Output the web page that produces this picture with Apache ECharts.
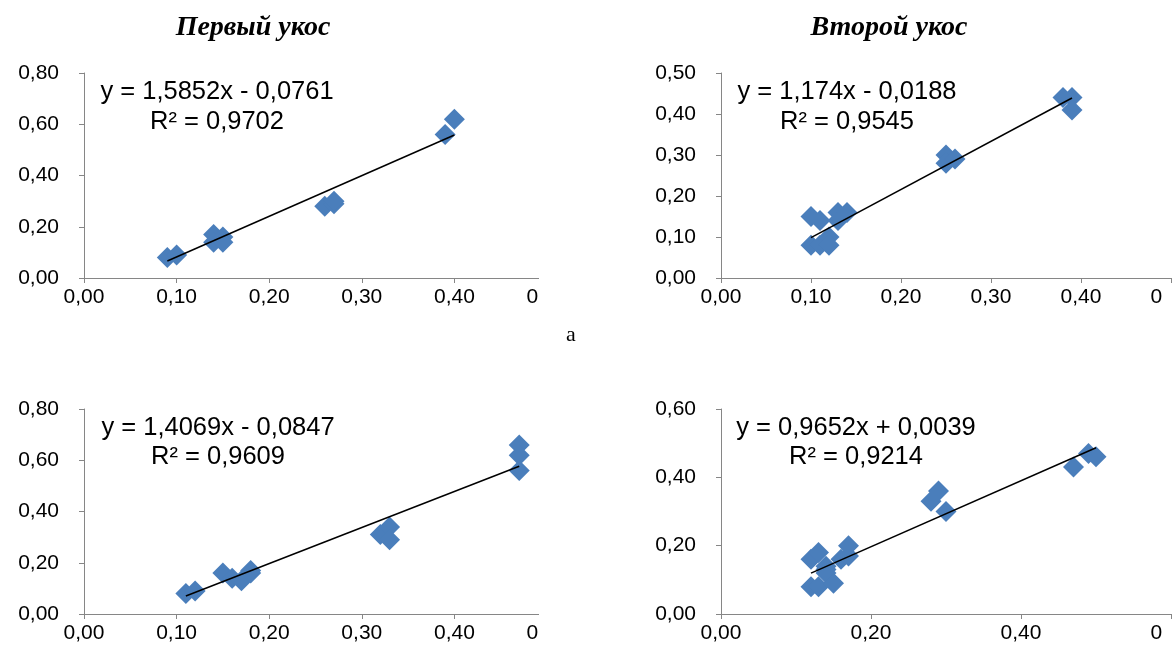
<!DOCTYPE html>
<html>
<head>
<meta charset="utf-8">
<script src="https://cdn.jsdelivr.net/npm/echarts@6/dist/echarts.min.js"></script>
<style>
html,body{margin:0;padding:0;background:#fff;}
#chart{width:1176px;height:662px;}
</style>
</head>
<body>
<div id="chart"></div>
<script>
// ---- Panel titles ----
const titles = ['Первый укос', 'Второй укос'];
const rowLabel = 'а';

// ---- Panel 1 (top-left) ----
const p1x = [0.09, 0.10, 0.14, 0.14, 0.15, 0.15, 0.26, 0.27, 0.27, 0.39, 0.40];
const p1y = [0.08, 0.09, 0.17, 0.14, 0.16, 0.14, 0.28, 0.29, 0.30, 0.56, 0.62];
const p1eq = { slope: 1.5852, intercept: -0.0761, eq: 'y = 1,5852x - 0,0761', r2: 'R² = 0,9702' };

// ---- Panel 2 (top-right) ----
const p2x = [0.10, 0.11, 0.10, 0.11, 0.12, 0.12, 0.13, 0.13, 0.14, 0.25, 0.25, 0.26, 0.38, 0.39, 0.39];
const p2y = [0.15, 0.14, 0.08, 0.08, 0.10, 0.08, 0.16, 0.14, 0.16, 0.30, 0.28, 0.29, 0.44, 0.44, 0.41];
const p2eq = { slope: 1.174, intercept: -0.0188, eq: 'y = 1,174x - 0,0188', r2: 'R² = 0,9545' };

// ---- Panel 3 (bottom-left) ----
const p3x = [0.11, 0.12, 0.15, 0.16, 0.17, 0.18, 0.18, 0.32, 0.33, 0.33, 0.47, 0.47, 0.47];
const p3y = [0.08, 0.09, 0.16, 0.14, 0.13, 0.16, 0.17, 0.31, 0.34, 0.29, 0.66, 0.62, 0.56];
const p3eq = { slope: 1.4069, intercept: -0.0847, eq: 'y = 1,4069x - 0,0847', r2: 'R² = 0,9609' };

// ---- Panel 4 (bottom-right) ----
const p4x = [0.12, 0.13, 0.12, 0.13, 0.14, 0.14, 0.14, 0.15, 0.16, 0.17, 0.17, 0.28, 0.29, 0.30, 0.47, 0.49, 0.50];
const p4y = [0.16, 0.18, 0.08, 0.08, 0.14, 0.12, 0.13, 0.09, 0.16, 0.20, 0.17, 0.33, 0.36, 0.30, 0.43, 0.47, 0.46];
const p4eq = { slope: 0.9652, intercept: 0.0039, eq: 'y = 0,9652x + 0,0039', r2: 'R² = 0,9214' };

// ---- Axis scales ----
const xScales = [{max: 0.5, interval: 0.1}, {max: 0.5, interval: 0.1}, {max: 0.5, interval: 0.1}, {max: 0.6, interval: 0.2}];
const yScales = [{max: 0.8, interval: 0.2}, {max: 0.5, interval: 0.1}, {max: 0.8, interval: 0.2}, {max: 0.6, interval: 0.2}];

const panels = [
  {xs: p1x, ys: p1y, eq: p1eq},
  {xs: p2x, ys: p2y, eq: p2eq},
  {xs: p3x, ys: p3y, eq: p3eq},
  {xs: p4x, ys: p4y, eq: p4eq}
];

const grids = [
  {left: 84, top: 73, width: 463, height: 205, outerBoundsMode: 'none'},
  {left: 721, top: 73, width: 450, height: 205, outerBoundsMode: 'none'},
  {left: 84, top: 409, width: 463, height: 205, outerBoundsMode: 'none'},
  {left: 721, top: 409, width: 450, height: 205, outerBoundsMode: 'none'}
];
const eqPos = [
  {cx: 217, y1: 92, y2: 122},
  {cx: 847, y1: 92, y2: 122},
  {cx: 218, y1: 428, y2: 457},
  {cx: 856, y1: 428, y2: 457}
];

const fmt = v => v.toFixed(2).replace('.', ',');
const axisGray = '#868686';
const sans = 'Liberation Sans';

const xAxes = [], yAxes = [], series = [], graphics = [];
panels.forEach((p, i) => {
  xAxes.push({
    type: 'value', gridIndex: i, min: 0, max: xScales[i].max, interval: xScales[i].interval,
    splitLine: {show: false},
    axisLine: {show: true, onZero: false, lineStyle: {color: axisGray, width: 1}},
    axisTick: {show: true, length: 5, lineStyle: {color: axisGray}},
    axisLabel: {formatter: fmt, color: '#000', fontFamily: sans, fontSize: 21, margin: 9,
                alignMaxLabel: 'center', alignMinLabel: 'center'}
  });
  yAxes.push({
    type: 'value', gridIndex: i, min: 0, max: yScales[i].max, interval: yScales[i].interval,
    splitLine: {show: false},
    axisLine: {show: true, onZero: false, lineStyle: {color: axisGray, width: 1}},
    axisTick: {show: true, length: 5, lineStyle: {color: axisGray}},
    axisLabel: {formatter: fmt, color: '#000', fontFamily: sans, fontSize: 21, margin: 25}
  });
  series.push({
    type: 'scatter', xAxisIndex: i, yAxisIndex: i,
    symbol: 'diamond', symbolSize: 21,
    itemStyle: {color: '#4A7EBB', opacity: 1},
    data: p.xs.map((x, k) => [x, p.ys[k]]),
    z: 2
  });
  const xmin = Math.min(...p.xs), xmax = Math.max(...p.xs);
  series.push({
    type: 'line', xAxisIndex: i, yAxisIndex: i, symbol: 'none',
    lineStyle: {color: '#000', width: 1.5},
    data: [[xmin, p.eq.slope * xmin + p.eq.intercept], [xmax, p.eq.slope * xmax + p.eq.intercept]],
    z: 3
  });
  graphics.push({type: 'text', x: eqPos[i].cx, y: eqPos[i].y1, z: 10,
    style: {text: p.eq.eq, fill: '#000', font: '25.5px "Liberation Sans"', textAlign: 'center', textVerticalAlign: 'middle'}});
  graphics.push({type: 'text', x: eqPos[i].cx, y: eqPos[i].y2, z: 10,
    style: {text: p.eq.r2, fill: '#000', font: '25.5px "Liberation Sans"', textAlign: 'center', textVerticalAlign: 'middle'}});
});

// crop of the panels' right edges (the source image is cut there)
graphics.push({type: 'rect', shape: {x: 539, y: 40, width: 100, height: 280}, style: {fill: '#fff'}, z: 50});
graphics.push({type: 'rect', shape: {x: 539, y: 380, width: 100, height: 282}, style: {fill: '#fff'}, z: 50});
graphics.push({type: 'rect', shape: {x: 1163, y: 284, width: 20, height: 30}, style: {fill: '#fff'}, z: 50});
graphics.push({type: 'rect', shape: {x: 1163, y: 620, width: 20, height: 42}, style: {fill: '#fff'}, z: 50});

graphics.push({type: 'text', x: 253, y: 28, z: 60,
  style: {text: titles[0], fill: '#000', font: 'italic bold 28px "Liberation Serif"', textAlign: 'center', textVerticalAlign: 'middle'}});
graphics.push({type: 'text', x: 889, y: 28, z: 60,
  style: {text: titles[1], fill: '#000', font: 'italic bold 28px "Liberation Serif"', textAlign: 'center', textVerticalAlign: 'middle'}});
graphics.push({type: 'text', x: 571, y: 335, z: 60,
  style: {text: rowLabel, fill: '#000', font: '22px "Liberation Serif"', textAlign: 'center', textVerticalAlign: 'middle'}});

const chart = echarts.init(document.getElementById('chart'));
chart.setOption({
  animation: false,
  backgroundColor: '#fff',
  grid: grids,
  xAxis: xAxes,
  yAxis: yAxes,
  series: series,
  graphic: graphics
});
</script>
</body>
</html>
